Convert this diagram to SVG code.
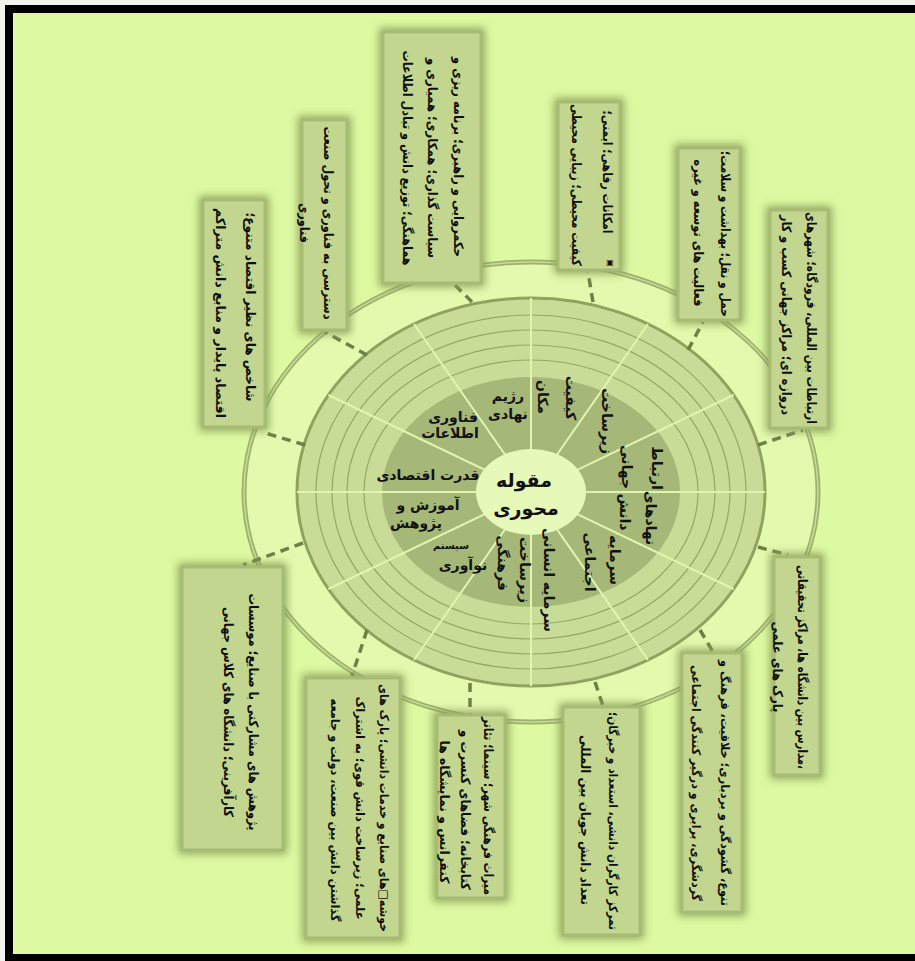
<svg xmlns="http://www.w3.org/2000/svg" width="915" height="961" viewBox="0 0 915 961">
<defs>
<filter id="blur" x="-30%" y="-30%" width="160%" height="160%"><feGaussianBlur stdDeviation="4"/></filter>
<style>
.sh{fill:#8aa05a;filter:url(#blur);opacity:.9}
.box{fill:#c3d68f;stroke:#a7bb74;stroke-width:3}
.bt{font-family:"DejaVu Sans",sans-serif;font-size:13px;font-weight:bold;fill:#0d0d0d;text-anchor:middle;dominant-baseline:central}
.sm{font-size:12px}
.wl{font-family:"DejaVu Sans",sans-serif;font-size:14px;font-weight:bold;fill:#111;text-anchor:middle;dominant-baseline:central}
.dash{stroke:#6c8244;stroke-width:3.5;stroke-dasharray:9 6;fill:none}
</style>
</defs>
<rect x="0" y="0" width="915" height="961" fill="#f2f4ee"/>
<rect x="5" y="5" width="910" height="956" fill="#ddf9a1"/>
<g id="frame" fill="#000">
<rect x="5" y="5" width="910" height="8"/>
<rect x="5" y="5" width="8" height="956"/>
<rect x="5" y="954" width="910" height="7"/>
</g>

<g id="wheel">
<ellipse cx="531" cy="492" rx="287" ry="230" fill="#e3faae" stroke="#9db26c" stroke-width="5"/>
<ellipse cx="531" cy="492" rx="287" ry="230" fill="none" stroke="#c9dc98" stroke-width="1.5"/>
<ellipse cx="531" cy="492" rx="234" ry="194" fill="#c9dc97" stroke="#8ea35e" stroke-width="3"/>
<g fill="none" stroke="#93a863" stroke-width="1.2">
<ellipse cx="531" cy="492" rx="215" ry="177"/>
<ellipse cx="531" cy="492" rx="199" ry="162"/>
<ellipse cx="531" cy="492" rx="184" ry="147"/>
<ellipse cx="531" cy="492" rx="167" ry="132"/>
</g>
<ellipse cx="531" cy="492" rx="149" ry="115" fill="#a5b877"/>
<g stroke="#e2f5b0" stroke-width="2">
<line x1="297" y1="492" x2="765" y2="492"/>
<line x1="328.4" y1="395" x2="733.6" y2="589"/>
<line x1="414" y1="324" x2="648" y2="660"/>
<line x1="531" y1="298" x2="531" y2="686"/>
<line x1="648" y1="324" x2="414" y2="660"/>
<line x1="733.6" y1="395" x2="328.4" y2="589"/>
</g>
<ellipse cx="531" cy="492" rx="55" ry="43" fill="#e6f9b8"/>
</g>

<g id="connectors">
<line class="dash" x1="305" y1="445" x2="262" y2="432"/>
<line class="dash" x1="367" y1="355" x2="325" y2="332"/>
<line class="dash" x1="472" y1="302" x2="455" y2="285"/>
<line class="dash" x1="593" y1="302" x2="588" y2="272"/>
<line class="dash" x1="688" y1="350" x2="703" y2="322"/>
<line class="dash" x1="758" y1="445" x2="803" y2="430"/>
<line class="dash" x1="758" y1="547" x2="788" y2="555"/>
<line class="dash" x1="700" y1="630" x2="713" y2="652"/>
<line class="dash" x1="595" y1="682" x2="603" y2="706"/>
<line class="dash" x1="470" y1="683" x2="470" y2="714"/>
<line class="dash" x1="367" y1="630" x2="352" y2="676"/>
<line class="dash" x1="303" y1="543" x2="243" y2="565"/>
</g>

<g id="center">
<text class="wl" style="font-size:19px" x="524" y="480">مقوله</text>
<text class="wl" style="font-size:19px" x="526" y="508">محوری</text>
</g>

<g id="w-regime"><text class="wl" x="508" y="396">رژیم</text><text class="wl" x="508" y="414">نهادی</text></g>
<g id="w-ict"><text class="wl" x="453" y="417">فناوری</text><text class="wl" x="450" y="433">اطلاعات</text></g>
<g id="w-econ"><text class="wl" x="428" y="475">قدرت اقتصادی</text></g>
<g id="w-edu"><text class="wl" x="428" y="505">آموزش و</text><text class="wl" x="416" y="523">پژوهش</text></g>
<g id="w-innov"><text class="wl" style="font-size:10px" x="451" y="545">سیستم</text><text class="wl" x="463" y="565">نوآوری</text></g>
<g id="w-place"><text class="wl" transform="translate(571,398) rotate(90)">کیفیت</text><text class="wl" transform="translate(543,397) rotate(90)">مکان</text></g>
<g id="w-infra"><text class="wl" transform="translate(607,421) rotate(90)">زیرساخت</text></g>
<g id="w-global"><text class="wl" transform="translate(657,468) rotate(90)">ارتباط</text><text class="wl" transform="translate(627,467) rotate(90)">جهانی</text></g>
<g id="w-kinst"><text class="wl" transform="translate(651,518) rotate(90)">نهادهای</text><text class="wl" transform="translate(625,512) rotate(90)">دانش</text></g>
<g id="w-social"><text class="wl" transform="translate(615,560) rotate(90)">سرمایه</text><text class="wl" transform="translate(590,562) rotate(90)">اجتماعی</text></g>
<g id="w-human"><text class="wl" transform="translate(549,580) rotate(90)">سرمایه انسانی</text></g>
<g id="w-culture"><text class="wl" transform="translate(525,570) rotate(90)">زیرساخت</text><text class="wl" transform="translate(503,563) rotate(90)">فرهنگی</text></g>

<g id="box-A">
<rect class="sh" x="199" y="196" width="70" height="235"/>
<rect class="box" x="203" y="200" width="62" height="227"/>
<text class="bt" transform="translate(250,307) rotate(90)" textLength="189" lengthAdjust="spacingAndGlyphs">شاخص های نظیر اقتصاد متنوع؛</text>
<text class="bt" transform="translate(220,313) rotate(90)" textLength="210" lengthAdjust="spacingAndGlyphs">اقتصاد پایدار و منابع دانش متراکم</text>
</g>
<g id="box-B">
<rect class="sh" x="298" y="116" width="53" height="218"/>
<rect class="box" x="302" y="120" width="45" height="210"/>
<text class="bt" transform="translate(328,223) rotate(90)" textLength="193" lengthAdjust="spacingAndGlyphs">دسترسی به فناوری و تحول صنعت</text>
<text class="bt" transform="translate(304,223) rotate(90)" textLength="40" lengthAdjust="spacingAndGlyphs">فناوری</text>
</g>
<g id="box-C">
<rect class="sh" x="379" y="28" width="106" height="259"/>
<rect class="box" x="383" y="32" width="98" height="251"/>
<text class="bt" transform="translate(458,157) rotate(90)" textLength="200" lengthAdjust="spacingAndGlyphs">حکمروایی و راهبری؛ برنامه ریزی و</text>
<text class="bt" transform="translate(432,158) rotate(90)" textLength="200" lengthAdjust="spacingAndGlyphs">سیاست گذاری؛ همکاری؛ همیاری و</text>
<text class="bt" transform="translate(407,158) rotate(90)" textLength="215" lengthAdjust="spacingAndGlyphs">هماهنگی؛ توزیع دانش و تبادل اطلاعات</text>
</g>
<g id="box-D">
<rect class="sh" x="554" y="98" width="70" height="176"/>
<rect class="box" x="558" y="102" width="62" height="168"/>
<text class="bt" transform="translate(607,172) rotate(90)" textLength="123" lengthAdjust="spacingAndGlyphs">امکانات رفاهی؛ ایمنی؛</text>
<text class="bt" transform="translate(576,185) rotate(90)" textLength="162" lengthAdjust="spacingAndGlyphs">کیفیت محیطی؛ زیبایی محیطی</text>
<text class="bt" style="font-size:8px" x="610" y="262">▣</text>
</g>
<g id="box-E">
<rect class="sh" x="674" y="144" width="70" height="180"/>
<rect class="box" x="678" y="148" width="62" height="172"/>
<text class="bt" transform="translate(725,234) rotate(90)" textLength="166" lengthAdjust="spacingAndGlyphs">حمل و نقل؛ بهداشت و سلامت؛</text>
<text class="bt" transform="translate(698,233) rotate(90)" textLength="147" lengthAdjust="spacingAndGlyphs">فعالیت های توسعه و غیره</text>
</g>
<g id="box-F">
<rect class="sh" x="766" y="206" width="66" height="226"/>
<rect class="box" x="770" y="210" width="58" height="218"/>
<text class="bt" transform="translate(811,318) rotate(90)" textLength="212" lengthAdjust="spacingAndGlyphs">ارتباطات بین المللی، فرودگاه؛ شهرهای</text>
<text class="bt" transform="translate(786,315) rotate(90)" textLength="200" lengthAdjust="spacingAndGlyphs">دروازه ای؛ مراکز جهانی کسب و کار</text>
</g>
<g id="box-G">
<rect class="sh" x="770" y="553" width="54" height="226"/>
<rect class="box" x="774" y="557" width="46" height="218"/>
<text class="bt" transform="translate(802,667) rotate(90)" textLength="204" lengthAdjust="spacingAndGlyphs">مدارس بین دانشگاه ها، مراکز تحقیقاتی،</text>
<text class="bt" transform="translate(777,667) rotate(90)" textLength="91" lengthAdjust="spacingAndGlyphs">پارک های علمی</text>
</g>
<g id="box-H">
<rect class="sh" x="678" y="649" width="68" height="267"/>
<rect class="box" x="682" y="653" width="60" height="259"/>
<text class="bt sm" transform="translate(725,783) rotate(90)" textLength="246" lengthAdjust="spacingAndGlyphs">تنوع، گشودگی و بردباری؛ خلاقیت، فرهنگ و</text>
<text class="bt sm" transform="translate(696,783) rotate(90)" textLength="236" lengthAdjust="spacingAndGlyphs">گردشگری، برابری و درگیر کنندگی اجتماعی</text>
</g>
<g id="box-I">
<rect class="sh" x="559" y="703" width="85" height="236"/>
<rect class="box" x="563" y="707" width="77" height="228"/>
<text class="bt sm" transform="translate(613,821) rotate(90)" textLength="218" lengthAdjust="spacingAndGlyphs">تمرکز کارگران دانشی، استعداد و خبرگان؛</text>
<text class="bt" transform="translate(585,820) rotate(90)" textLength="170" lengthAdjust="spacingAndGlyphs">تعداد دانش جویان بین المللی</text>
</g>
<g id="box-J">
<rect class="sh" x="433" y="711" width="76" height="191"/>
<rect class="box" x="437" y="715" width="68" height="183"/>
<text class="bt" transform="translate(488,806) rotate(90)" textLength="178" lengthAdjust="spacingAndGlyphs">میراث فرهنگی شهر؛ سینما؛ تئاتر</text>
<text class="bt" transform="translate(465,810) rotate(90)" textLength="160" lengthAdjust="spacingAndGlyphs">کتابخانه؛ فضاهای کنسرت و</text>
<text class="bt" transform="translate(444,812) rotate(90)" textLength="143" lengthAdjust="spacingAndGlyphs">کنفرانس و نمایشگاه ها</text>
</g>
<g id="box-K">
<rect class="sh" x="302" y="674" width="102" height="268"/>
<rect class="box" x="306" y="678" width="94" height="260"/>
<text class="bt sm" transform="translate(384,808) rotate(90)" textLength="248" lengthAdjust="spacingAndGlyphs">خوشه□های صنایع و خدمات دانشی؛ پارک های</text>
<text class="bt sm" transform="translate(360,808) rotate(90)" textLength="223" lengthAdjust="spacingAndGlyphs">علمی؛ زیرساخت دانش قوی؛ به اشتراک</text>
<text class="bt sm" transform="translate(335,810) rotate(90)" textLength="223" lengthAdjust="spacingAndGlyphs">گذاشتن دانش بین صنعت، دولت و جامعه</text>
</g>
<g id="box-L">
<rect class="sh" x="178" y="563" width="109" height="291"/>
<rect class="box" x="182" y="567" width="101" height="283"/>
<text class="bt" transform="translate(253,712) rotate(90)" textLength="237" lengthAdjust="spacingAndGlyphs">پژوهش های مشارکتی با صنایع؛ موسسات</text>
<text class="bt" transform="translate(228,712) rotate(90)" textLength="210" lengthAdjust="spacingAndGlyphs">کارآفرینی؛ دانشگاه های کلاس جهانی</text>
</g>
</svg>
